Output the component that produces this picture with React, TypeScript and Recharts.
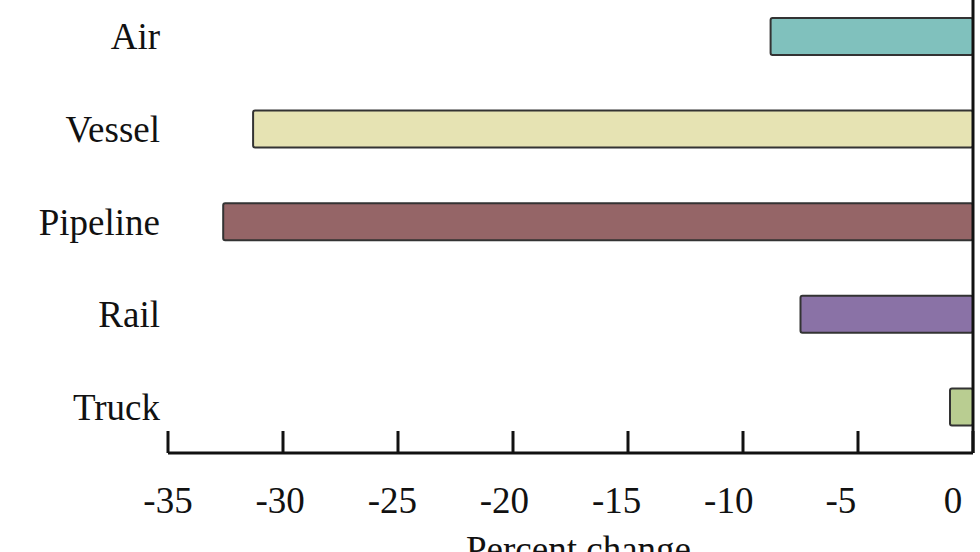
import { BarChart, Bar, XAxis, YAxis, Cell, ReferenceLine } from "recharts";

const modes = ["Air", "Vessel", "Pipeline", "Rail", "Truck"];
const changes = [-8.8, -31.3, -32.6, -7.5, -1.0];
const colors = ["#80c1bd", "#e6e3b3", "#956567", "#8a72a6", "#b9cd91"];
const xTicks = [-35, -30, -25, -20, -15, -10, -5, 0];

const data = modes.map((name, i) => ({ name, value: changes[i] }));

const FONT = "'Liberation Serif', 'Times New Roman', serif";

// tick labels in the original drift slightly left of their tick marks
function XTick(props: any) {
  const { x, y, payload } = props;
  const shift = -0.57 * (payload.value + 35);
  return (
    <g>
      <line x1={x} x2={x} y1={y - 22} y2={y} stroke="#111" strokeWidth={3} />
      <text x={x + shift} y={y + 60} textAnchor="middle" fontFamily={FONT} fontSize={37} fill="#111">
        {payload.value}
      </text>
    </g>
  );
}

export default function App() {
  return (
    <div
      style={{
        position: "absolute",
        left: 0,
        top: 0,
        width: 980,
        height: 552,
        overflow: "hidden",
        background: "#fff",
      }}
    >
      <div style={{ position: "absolute", left: 0, top: -20 }}>
        <BarChart
          width={980}
          height={590}
          data={data}
          layout="vertical"
          barSize={37}
          margin={{ top: 10, right: 7, bottom: 27, left: 0 }}
        >
          <XAxis
            type="number"
            domain={[-35, 0]}
            ticks={xTicks}
            height={90}
            tickSize={0}
            tickMargin={0}
            tickLine={false}
            axisLine={{ stroke: "#111", strokeWidth: 3 }}
            tick={<XTick />}
            interval={0}
            label={{
              value: "Percent change",
              position: "insideBottom",
              offset: -19,
              dx: 8,
              fontFamily: FONT,
              fontSize: 37,
              fill: "#111",
            }}
          />
          <YAxis
            type="category"
            dataKey="name"
            width={168}
            tickSize={0}
            tickMargin={8}
            axisLine={false}
            tickLine={false}
            tick={{ fontFamily: FONT, fontSize: 37, fill: "#111" }}
          />
          <Bar dataKey="value" stroke="#333" strokeWidth={2} radius={2} isAnimationActive={false}>
            {data.map((d, i) => (
              <Cell key={d.name} fill={colors[i]} />
            ))}
          </Bar>
          <ReferenceLine x={0} stroke="#111" strokeWidth={3} />
        </BarChart>
      </div>
    </div>
  );
}
